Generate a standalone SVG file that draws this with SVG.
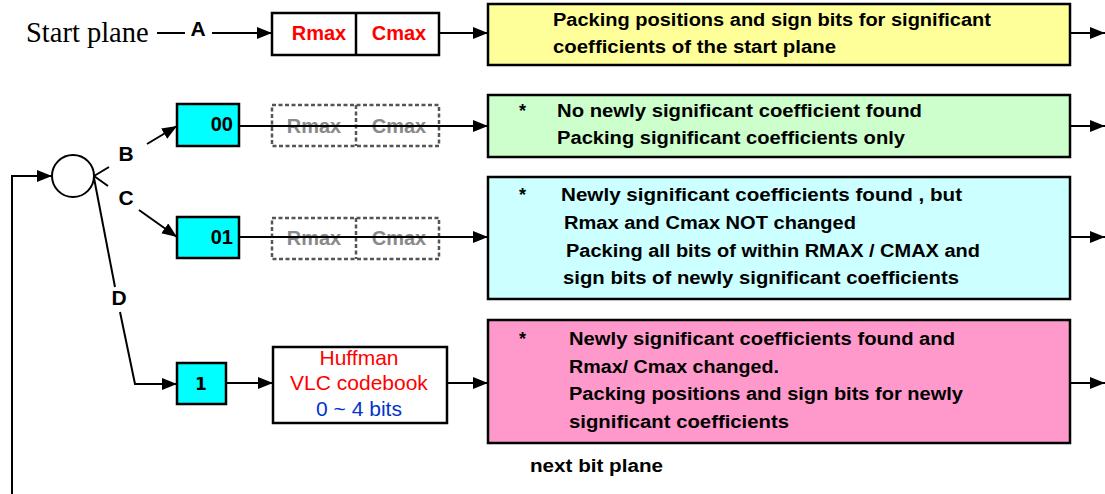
<svg xmlns="http://www.w3.org/2000/svg" width="1105" height="494" viewBox="0 0 1105 494">
  <defs>
    <marker id="arrow" markerUnits="userSpaceOnUse" markerWidth="16" markerHeight="14" refX="15" refY="6" orient="auto">
      <path d="M0,0 L15,6 L0,12 z" fill="#000"/>
    </marker>
    <style>
      .conn { fill: none; stroke: #000; stroke-width: 2; }
      .box { stroke: #000; stroke-width: 2.5; }
      .plain { fill: #fff; stroke: #000; stroke-width: 2.5; }
      .dash { fill: none; stroke: #555; stroke-width: 2.5; stroke-dasharray: 4 2.5; }
      .node { fill: #00ffff; stroke: #000; stroke-width: 2.5; }
      .lbl { font-family: "Liberation Sans", Arial, sans-serif; font-weight: bold; font-size: 21px; fill: #000; }
      .flag { font-family: "Liberation Sans", Arial, sans-serif; font-weight: bold; font-size: 20px; fill: #000; }
      .txt { font-family: "Liberation Sans", Arial, sans-serif; font-weight: bold; font-size: 18px; fill: #000; }
      .red { font-family: "Liberation Sans", Arial, sans-serif; font-weight: bold; font-size: 20px; fill: #ff0000; }
      .gray { font-family: "Liberation Sans", Arial, sans-serif; font-weight: bold; font-size: 20px; fill: #8a8a8a; }
      .huff { font-family: "Liberation Sans", Arial, sans-serif; font-size: 21px; }
    </style>
  </defs>

  <!-- start plane entry -->
  <g id="start">
    <text x="26" y="42" font-family="Liberation Serif, Times New Roman, serif" font-size="28.5">Start plane</text>
  </g>

  <!-- Rmax / Cmax of the start plane -->
  <g id="start-bounds">
    <rect class="plain" x="272" y="13" width="167" height="42"/>
    <line x1="356" y1="13" x2="356" y2="55" stroke="#000" stroke-width="2.5"/>
    <text class="red" x="319" y="40" text-anchor="middle">Rmax</text>
    <text class="red" x="399" y="40" text-anchor="middle">Cmax</text>
  </g>

  <!-- decision circle -->
  <g id="selector">
    <circle cx="73" cy="176" r="21" fill="#fff" stroke="#000" stroke-width="2"/>
  </g>

  <!-- flag nodes -->
  <g id="flag-00">
    <rect class="node" x="177" y="104" width="62" height="42"/>
    <text class="flag" x="233" y="131" text-anchor="end">00</text>
  </g>
  <g id="flag-01">
    <rect class="node" x="177" y="217" width="62" height="41"/>
    <text class="flag" x="233" y="244" text-anchor="end">01</text>
  </g>
  <g id="flag-1">
    <rect class="node" x="177" y="363" width="49" height="41"/>
    <text x="201" y="390" text-anchor="middle" font-family="DejaVu Sans, Verdana, sans-serif" font-weight="bold" font-size="17">1</text>
  </g>

  <!-- unchanged bounds (dashed) -->
  <g id="bounds-00">
    <rect class="dash" x="272" y="105" width="167" height="41"/>
    <line class="dash" x1="356" y1="105" x2="356" y2="146"/>
    <text class="gray" x="314" y="133" text-anchor="middle">Rmax</text>
    <text class="gray" x="399" y="133" text-anchor="middle">Cmax</text>
  </g>
  <g id="bounds-01">
    <rect class="dash" x="272" y="218" width="167" height="41"/>
    <line class="dash" x1="356" y1="218" x2="356" y2="259"/>
    <text class="gray" x="314" y="245" text-anchor="middle">Rmax</text>
    <text class="gray" x="399" y="245" text-anchor="middle">Cmax</text>
  </g>

  <!-- Huffman codebook -->
  <g id="huffman">
    <rect class="plain" x="273" y="347" width="174" height="76"/>
    <text class="huff" x="359" y="365" text-anchor="middle" fill="#ff0000">Huffman</text>
    <text class="huff" x="359" y="390" text-anchor="middle" fill="#ff0000">VLC codebook</text>
    <text class="huff" x="359" y="416" text-anchor="middle" fill="#0033cc">0 ~ 4 bits</text>
  </g>

  <!-- packing descriptions -->
  <g id="pack-start">
    <rect class="box" x="488" y="4" width="582" height="61" fill="#ffff99"/>
    <text class="txt" x="553" y="26" textLength="438" lengthAdjust="spacingAndGlyphs">Packing positions and sign bits for significant</text>
    <text class="txt" x="553" y="53" textLength="283" lengthAdjust="spacingAndGlyphs">coefficients of the start plane</text>
  </g>
  <g id="pack-00">
    <rect class="box" x="488" y="95" width="582" height="62" fill="#ccffcc"/>
    <text class="txt" x="519" y="117">*</text>
    <text class="txt" x="557" y="117" textLength="365" lengthAdjust="spacingAndGlyphs">No newly significant coefficient found</text>
    <text class="txt" x="557" y="144" textLength="348" lengthAdjust="spacingAndGlyphs">Packing significant coefficients only</text>
  </g>
  <g id="pack-01">
    <rect class="box" x="488" y="177" width="582" height="122" fill="#ccffff"/>
    <text class="txt" x="519" y="201">*</text>
    <text class="txt" x="561" y="201" textLength="401" lengthAdjust="spacingAndGlyphs">Newly significant coefficients found ,  but</text>
    <text class="txt" x="564" y="229" textLength="292" lengthAdjust="spacingAndGlyphs">Rmax and Cmax NOT changed</text>
    <text class="txt" x="566" y="257" textLength="414" lengthAdjust="spacingAndGlyphs">Packing all bits of within RMAX / CMAX and</text>
    <text class="txt" x="563" y="284" textLength="396" lengthAdjust="spacingAndGlyphs">sign bits of newly significant coefficients</text>
  </g>
  <g id="pack-1">
    <rect class="box" x="488" y="320" width="582" height="123" fill="#ff99cc"/>
    <text class="txt" x="519" y="345">*</text>
    <text class="txt" x="569" y="345" textLength="386" lengthAdjust="spacingAndGlyphs">Newly significant coefficients found and</text>
    <text class="txt" x="569" y="373" textLength="210" lengthAdjust="spacingAndGlyphs">Rmax/ Cmax changed.</text>
    <text class="txt" x="569" y="400" textLength="394" lengthAdjust="spacingAndGlyphs">Packing positions and sign bits for newly</text>
    <text class="txt" x="569" y="428" textLength="220" lengthAdjust="spacingAndGlyphs">significant coefficients</text>
  </g>

  <g id="next-plane">
    <text class="txt" x="530" y="472" textLength="133" lengthAdjust="spacingAndGlyphs">next bit plane</text>
  </g>

  <!-- connectors -->
  <g id="connectors">
    <path class="conn" d="M157,33 H185"/>
    <path class="conn" d="M212,33 H272" marker-end="url(#arrow)"/>
    <path class="conn" d="M439,33 H488" marker-end="url(#arrow)"/>
    <path class="conn" d="M1070,33 H1105" marker-end="url(#arrow)"/>

    <path class="conn" d="M12,494 V176 H52" marker-end="url(#arrow)"/>

    <path class="conn" d="M94,176 L109,167"/>
    <path class="conn" d="M147,144 L177,126" marker-end="url(#arrow)"/>
    <path class="conn" d="M94,176 L108,186"/>
    <path class="conn" d="M139,210 L177,237" marker-end="url(#arrow)"/>
    <path class="conn" d="M94,178 L115,287"/>
    <path class="conn" d="M120,312 L135,384 H177" marker-end="url(#arrow)"/>

    <path class="conn" d="M239,126 H488" marker-end="url(#arrow)"/>
    <path class="conn" d="M1070,126 H1105" marker-end="url(#arrow)"/>
    <path class="conn" d="M239,237 H488" marker-end="url(#arrow)"/>
    <path class="conn" d="M1070,237 H1105" marker-end="url(#arrow)"/>
    <path class="conn" d="M226,383 H273" marker-end="url(#arrow)"/>
    <path class="conn" d="M447,383 H488" marker-end="url(#arrow)"/>
    <path class="conn" d="M1070,383 H1105" marker-end="url(#arrow)"/>

    <!-- branch letters -->
    <text class="lbl" x="198" y="36" text-anchor="middle">A</text>
    <text class="lbl" x="126" y="161" text-anchor="middle">B</text>
    <text class="lbl" x="126" y="205" text-anchor="middle">C</text>
    <text class="lbl" x="119" y="305" text-anchor="middle">D</text>
  </g>
</svg>
